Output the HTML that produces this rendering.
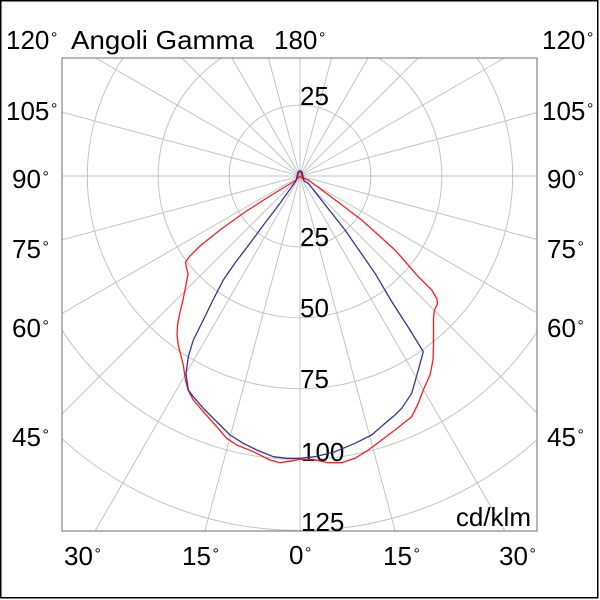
<!DOCTYPE html>
<html>
<head>
<meta charset="utf-8">
<style>
html,body{margin:0;padding:0;background:#fff;width:600px;height:600px;overflow:hidden;}
svg{display:block;}
text{font-family:"Liberation Sans",Arial,sans-serif;fill:#000;}
</style>
</head>
<body>
<svg width="600" height="600" viewBox="0 0 600 600" xmlns="http://www.w3.org/2000/svg">
<defs>
<clipPath id="box"><rect x="62" y="58" width="475" height="473"/></clipPath>
</defs>
<rect x="0" y="0" width="600" height="600" fill="#fff"/>
<rect x="0.75" y="0.75" width="597" height="597" fill="none" stroke="#000" stroke-width="1.5"/>

<g clip-path="url(#box)" stroke="#c4c4c4" stroke-width="1" fill="none">
<circle cx="300" cy="176" r="70.9"/>
<circle cx="300" cy="176" r="141.8"/>
<circle cx="300" cy="176" r="212.7"/>
<circle cx="300" cy="176" r="283.6"/>
<circle cx="300" cy="176" r="354.5"/>
</g>
<g stroke="#c4c4c4" stroke-width="1" fill="none">
<line x1="300" y1="176" x2="300" y2="531"/>
<line x1="300" y1="176" x2="395.1" y2="531"/>
<line x1="300" y1="176" x2="505" y2="531"/>
<line x1="300" y1="176" x2="537" y2="413"/>
<line x1="300" y1="176" x2="537" y2="312.8"/>
<line x1="300" y1="176" x2="537" y2="239.5"/>
<line x1="300" y1="176" x2="537" y2="176"/>
<line x1="300" y1="176" x2="537" y2="112.5"/>
<line x1="300" y1="176" x2="504.4" y2="58"/>
<line x1="300" y1="176" x2="418" y2="58"/>
<line x1="300" y1="176" x2="368.1" y2="58"/>
<line x1="300" y1="176" x2="331.6" y2="58"/>
<line x1="300" y1="176" x2="300" y2="58"/>
<line x1="300" y1="176" x2="268.4" y2="58"/>
<line x1="300" y1="176" x2="231.9" y2="58"/>
<line x1="300" y1="176" x2="182" y2="58"/>
<line x1="300" y1="176" x2="95.6" y2="58"/>
<line x1="300" y1="176" x2="62" y2="112.2"/>
<line x1="300" y1="176" x2="62" y2="176"/>
<line x1="300" y1="176" x2="62" y2="239.8"/>
<line x1="300" y1="176" x2="62" y2="313.4"/>
<line x1="300" y1="176" x2="62" y2="414"/>
<line x1="300" y1="176" x2="95" y2="531"/>
<line x1="300" y1="176" x2="204.9" y2="531"/>
</g>
<rect x="62" y="58" width="475" height="473" fill="none" stroke="#858585" stroke-width="1.2"/>

<g font-size="26">
<text x="300" y="105">25</text>
<text x="300" y="246">25</text>
<text x="300" y="317">50</text>
<text x="300" y="388">75</text>
<text x="301" y="461">100</text>
<text x="301" y="531">125</text>
<text x="531" y="526" text-anchor="end">cd/klm</text>
</g>

<g fill="none" stroke-width="1.3" stroke-linejoin="round">
<path stroke="#ff1a1a" d="M300,176 L297,179 L298.5,172.5 L301,172.5 L303,179 L300,176
M296,180 L293,182 L270,196 L245,212 L220,230 L200,246 L190,256 L185.5,262 L186.5,268 L188,274 L186.5,282 L183,300 L180,312 L177.5,325 L177,335 L178.3,345 L181,356 L183.3,365 L185.5,380 L188,390 L193.3,400 L203.3,411.7 L216.7,426.7 L226.7,438.3 L236.7,445 L253.3,451.7 L270,460 L280,462.7 L293.3,460.7 L300,459.3 L315,460 L328.3,462.7 L341.7,462.7 L355,458.3 L368.3,450 L381.7,440 L395,430 L411.7,416.7 L418.3,403.3 L423.3,390 L430,375 L433,360 L433.5,345 L433.5,330 L433.5,318 L434.5,310 L437.5,304 L437,299 L431.7,290 L418.3,276.7 L395,250 L361.7,220 L330,196 L308.3,180 L303,178"/>
<path stroke="#33339a" d="M296,181 L298,172 L300,170.5 L302,172 L304,181
M296,181 L293,185 L280,203.3 L265,223 L250,243.3 L235,263 L223.3,280 L213,300 L203.3,320 L193.3,340 L188.3,356.7 L186,373.3 L188.3,390 L193.3,396.7 L203.3,408.3 L220,425 L230,435 L243.3,443.3 L256.7,450 L273.3,456.7 L286.7,458.3 L300,458.3 L315,456.7 L335,451.7 L355,443.3 L371.7,435 L385,423.3 L395,415 L401.7,408.3 L411.7,393.3 L418.3,370 L423.3,351.7 L410,330 L392,302 L375,273.3 L345,230 L308.3,183.3 L304,181"/>
</g>

<g font-size="26">
<text x="71" y="49" textLength="183" lengthAdjust="spacingAndGlyphs">Angoli Gamma</text>
<text x="6" y="49">120</text><text x="51" y="43" font-size="16">°</text>
<text x="274" y="49">180</text><text x="319" y="43" font-size="16">°</text>
<text x="542" y="49">120</text><text x="587" y="43" font-size="16">°</text>

<text x="6" y="120">105</text><text x="51" y="114" font-size="16">°</text>
<text x="542" y="120">105</text><text x="587" y="114" font-size="16">°</text>

<text x="12" y="188">90</text><text x="42.5" y="182" font-size="16">°</text>
<text x="547" y="188">90</text><text x="577.5" y="182" font-size="16">°</text>

<text x="12" y="258">75</text><text x="42.5" y="252" font-size="16">°</text>
<text x="547" y="258">75</text><text x="577.5" y="252" font-size="16">°</text>

<text x="12" y="337">60</text><text x="42.5" y="331" font-size="16">°</text>
<text x="547" y="337">60</text><text x="577.5" y="331" font-size="16">°</text>

<text x="12" y="446">45</text><text x="42.5" y="440" font-size="16">°</text>
<text x="547" y="446">45</text><text x="577.5" y="440" font-size="16">°</text>

<text x="64" y="565">30</text><text x="94.5" y="559" font-size="16">°</text>
<text x="182" y="565">15</text><text x="212.5" y="559" font-size="16">°</text>
<text x="289" y="564">0</text><text x="305" y="558" font-size="16">°</text>
<text x="383" y="565">15</text><text x="413.5" y="559" font-size="16">°</text>
<text x="499" y="565">30</text><text x="529.5" y="559" font-size="16">°</text>
</g>
</svg>
</body>
</html>
